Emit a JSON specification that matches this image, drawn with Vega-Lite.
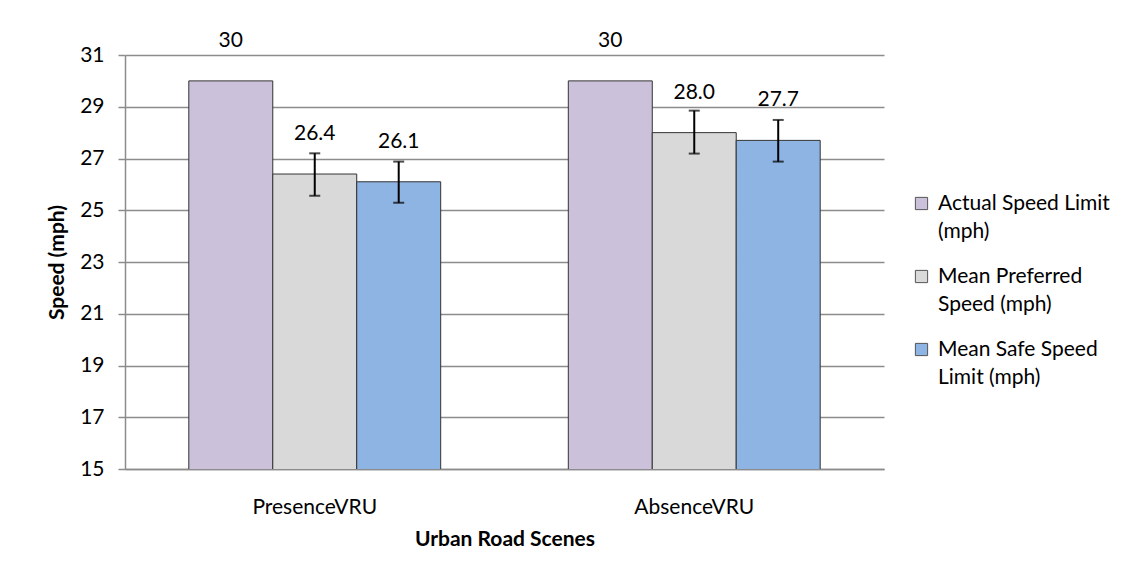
{
  "$schema": "https://vega.github.io/schema/vega-lite/v6.json",
  "width": 759,
  "height": 414,
  "autosize": {"type": "none"},
  "padding": {"left": 125, "top": 55, "right": 246, "bottom": 111},
  "background": "white",
  "config": {"font": "Lato", "view": {"stroke": null}},
  "data": {
    "values": [
      {"scene": "PresenceVRU", "series": "Actual Speed Limit (mph)", "value": 30, "lo": null, "hi": null, "label": "30"},
      {"scene": "PresenceVRU", "series": "Mean Preferred Speed (mph)", "value": 26.4, "lo": 25.56, "hi": 27.2, "label": "26.4"},
      {"scene": "PresenceVRU", "series": "Mean Safe Speed Limit (mph)", "value": 26.1, "lo": 25.29, "hi": 26.88, "label": "26.1"},
      {"scene": "AbsenceVRU", "series": "Actual Speed Limit (mph)", "value": 30, "lo": null, "hi": null, "label": "30"},
      {"scene": "AbsenceVRU", "series": "Mean Preferred Speed (mph)", "value": 28.0, "lo": 27.19, "hi": 28.85, "label": "28.0"},
      {"scene": "AbsenceVRU", "series": "Mean Safe Speed Limit (mph)", "value": 27.7, "lo": 26.88, "hi": 28.49, "label": "27.7"}
    ]
  },
  "encoding": {
    "x": {
      "field": "scene",
      "type": "nominal",
      "sort": ["PresenceVRU", "AbsenceVRU"],
      "scale": {"paddingInner": 0, "paddingOuter": 0},
      "axis": {
        "title": "Urban Road Scenes",
        "labelAngle": 0,
        "ticks": false,
        "domainColor": "#8c8c8c",
        "domainWidth": 1.5,
        "labelFontSize": 21,
        "labelColor": "black",
        "labelPadding": 27,
        "titleFontSize": 21,
        "titleFontWeight": "bold",
        "titleColor": "black",
        "titlePadding": 11
      }
    },
    "xOffset": {
      "field": "series",
      "type": "nominal",
      "sort": ["Actual Speed Limit (mph)", "Mean Preferred Speed (mph)", "Mean Safe Speed Limit (mph)"],
      "scale": {"paddingInner": 0, "paddingOuter": 0.76}
    }
  },
  "layer": [
    {
      "mark": {"type": "bar", "stroke": "#333333", "strokeWidth": 1, "clip": true},
      "encoding": {
        "y": {
          "field": "value",
          "type": "quantitative",
          "scale": {"domain": [15, 31], "nice": false, "zero": false},
          "axis": {
            "values": [15, 17, 19, 21, 23, 25, 27, 29, 31],
            "title": "Speed (mph)",
            "grid": true,
            "gridColor": "#8c8c8c",
            "gridWidth": 1.5,
            "domainColor": "#8c8c8c",
            "domainWidth": 1.5,
            "tickColor": "#8c8c8c",
            "tickWidth": 1.5,
            "tickSize": 7,
            "labelFontSize": 21,
            "labelColor": "black",
            "labelPadding": 14,
            "titleFontSize": 21,
            "titleFontWeight": "bold",
            "titleColor": "black",
            "titlePadding": 12
          }
        },
        "color": {
          "field": "series",
          "type": "nominal",
          "sort": ["Actual Speed Limit (mph)", "Mean Preferred Speed (mph)", "Mean Safe Speed Limit (mph)"],
          "scale": {"range": ["#CCC1DA", "#D9D9D9", "#8EB4E3"]},
          "legend": {
            "title": null,
            "orient": "none",
            "legendX": 786,
            "legendY": 138,
            "symbolType": "square",
            "symbolSize": 150,
            "symbolStrokeColor": "#555555",
            "symbolStrokeWidth": 1,
            "symbolOpacity": 1,
            "labelFontSize": 21,
            "labelColor": "black",
            "labelOffset": 6,
            "labelLimit": 300,
            "rowPadding": 23,
            "labelExpr": "datum.label == 'Actual Speed Limit (mph)' ? ['Actual Speed Limit', '(mph)'] : datum.label == 'Mean Preferred Speed (mph)' ? ['Mean Preferred', 'Speed (mph)'] : ['Mean Safe Speed', 'Limit (mph)']",
            "encode": {"labels": {"update": {"lineHeight": {"value": 28}}}}
          }
        }
      }
    },
    {
      "transform": [{"filter": "isValid(datum.lo)"}],
      "mark": {"type": "rule", "color": "black", "strokeWidth": 2},
      "encoding": {
        "y": {"field": "lo", "type": "quantitative"},
        "y2": {"field": "hi"}
      }
    },
    {
      "transform": [{"filter": "isValid(datum.lo)"}],
      "mark": {"type": "tick", "color": "black", "thickness": 2, "size": 11},
      "encoding": {"y": {"field": "lo", "type": "quantitative"}}
    },
    {
      "transform": [{"filter": "isValid(datum.lo)"}],
      "mark": {"type": "tick", "color": "black", "thickness": 2, "size": 11},
      "encoding": {"y": {"field": "hi", "type": "quantitative"}}
    },
    {
      "mark": {"type": "text", "fontSize": 21, "color": "black", "dy": -40, "baseline": "middle"},
      "encoding": {
        "y": {"field": "value", "type": "quantitative"},
        "text": {"field": "label", "type": "nominal"}
      }
    }
  ]
}
